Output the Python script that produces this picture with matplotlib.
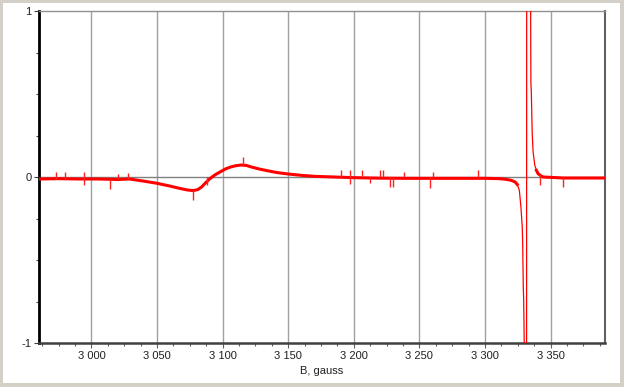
import numpy as np
import matplotlib
matplotlib.use('Agg')
import matplotlib.pyplot as plt
from matplotlib.patches import Rectangle
from matplotlib.ticker import MultipleLocator, FuncFormatter

plt.rcParams['font.family'] = ['Liberation Sans', 'DejaVu Sans']

# field (gauss) and signal
field = [2960.0, 2975, 2990, 3005, 3020, 3029, 3040, 3050, 3060, 3067,
         3073, 3077.5, 3081, 3084, 3087, 3090, 3094, 3098, 3102, 3106,
         3110, 3114, 3118, 3122, 3128, 3134, 3142, 3150, 3160, 3170,
         3185, 3200, 3220, 3240, 3260, 3280, 3300, 3311, 3316, 3320,
         3323, 3324.6, 3326.2, 3327.4, 3328.4, 3328.7, 3329.2, 3329.5, 3329.9, 3330.3,
         3331.7, 3331.8, 3334.6, 3334.8, 3335.0, 3335.3, 3336.0, 3336.7, 3338.0, 3339.2,
         3340.5, 3342.5, 3344.3, 3360, 3375, 3391.5]
signal = [-0.012, -0.010, -0.012, -0.012, -0.015, -0.012, -0.025, -0.038, -0.055, -0.068,
          -0.078, -0.082, -0.076, -0.060, -0.035, -0.012, 0.012, 0.030, 0.048, 0.060,
          0.068, 0.072, 0.070, 0.060, 0.048, 0.038, 0.026, 0.018, 0.010, 0.004,
          0.000, -0.004, -0.007, -0.008, -0.008, -0.008, -0.008, -0.010, -0.014, -0.020,
          -0.030, -0.045, -0.080, -0.18, -0.30, -0.38, -0.66, -0.74, -0.99, -1.2,
          -1.2, 1.2, 1.2, 1.0, 0.57, 0.52, 0.265, 0.15, 0.07, 0.04,
          0.02, 0.008, 0.0, -0.006, -0.006, -0.006]

# noise spikes: position, low end, high end
spike_x = [2972.8, 2980.2, 2994.4, 3014.0, 3020.3, 3027.9, 3077.5, 3087.7, 3115.6, 3190.1,
           3197.0, 3205.9, 3212.2, 3219.8, 3221.9, 3227.5, 3230.0, 3238.4, 3258.0, 3260.5,
           3294.8, 3341.8, 3359.6]
spike_lo = [-0.01, -0.01, -0.05, -0.07, -0.01, -0.01, -0.14, -0.05, 0.07, 0.0,
            -0.04, 0.0, -0.035, 0.0, 0.0, -0.06, -0.06, 0.0, -0.065, 0.0,
            0.0, -0.05, -0.06]
spike_hi = [0.03, 0.03, 0.03, -0.01, 0.02, 0.025, -0.08, 0.0, 0.12, 0.04,
            0.04, 0.04, 0.0, 0.04, 0.04, 0.0, 0.0, 0.03, 0.0, 0.03,
            0.04, 0.02, 0.0]

xticks = [3000, 3050, 3100, 3150, 3200, 3250, 3300, 3350]
yticks = [-1, 0, 1]

W, H = 624, 387
fig = plt.figure(figsize=(W / 100, H / 100), dpi=100)
fig.patch.set_facecolor('#d4d0c8')
fig.add_artist(Rectangle((3 / W, 4 / H), 617 / W, 380 / H, transform=fig.transFigure,
                         facecolor='white', edgecolor='none', zorder=0))

ax = fig.add_axes([39 / W, 1 - 343 / H, 566 / W, 332 / H])
ax.set_facecolor('white')

x = np.array(field)
y = np.array(signal)
ax.plot(x, y, color='#ff0000', linewidth=0.9, zorder=3)
flat = (x < 3325) | (x > 3338)
ax.plot(x, np.where(flat, y, np.nan), color='#ff0000', linewidth=2.2, zorder=3)
ax.vlines(spike_x, spike_lo, spike_hi, color='#ff2020', linewidth=1.0, zorder=3)

ax.set_xlim(2960, 3391.5)
ax.set_ylim(-1, 1)

for t in xticks:
    ax.axvline(t, color='#a0a0a0', linewidth=1.0, zorder=1)
ax.axhline(0, color='#808080', linewidth=1.0, zorder=2)

ax.set_xticks(xticks)
ax.xaxis.set_minor_locator(MultipleLocator(12.5))
ax.set_yticks(yticks)
ax.yaxis.set_minor_locator(MultipleLocator(0.25))
ax.xaxis.set_major_formatter(FuncFormatter(lambda v, p: f'{int(v):,}'.replace(',', ' ')))
ax.yaxis.set_major_formatter(FuncFormatter(lambda v, p: f'{int(v)}'))

ax.tick_params(axis='both', which='major', labelsize=8, length=3.5, width=0.8, pad=2)
ax.tick_params(axis='both', which='minor', length=2.5, width=0.8)
ax.tick_params(axis='x', which='both', colors='#606060', labelcolor='#202020')
ax.tick_params(axis='y', which='both', colors='#404040', labelcolor='#202020')

ax.spines['left'].set_color('black')
ax.spines['left'].set_linewidth(2.0)
ax.spines['bottom'].set_color('#404040')
ax.spines['bottom'].set_linewidth(1.8)
ax.spines['top'].set_color('#909090')
ax.spines['top'].set_linewidth(1.0)
ax.spines['right'].set_color('#606060')
ax.spines['right'].set_linewidth(1.5)

ax.set_xlabel('B, gauss', fontsize=8, color='#202020', labelpad=4)

fig.savefig('out.png', dpi=100, facecolor=fig.get_facecolor())
